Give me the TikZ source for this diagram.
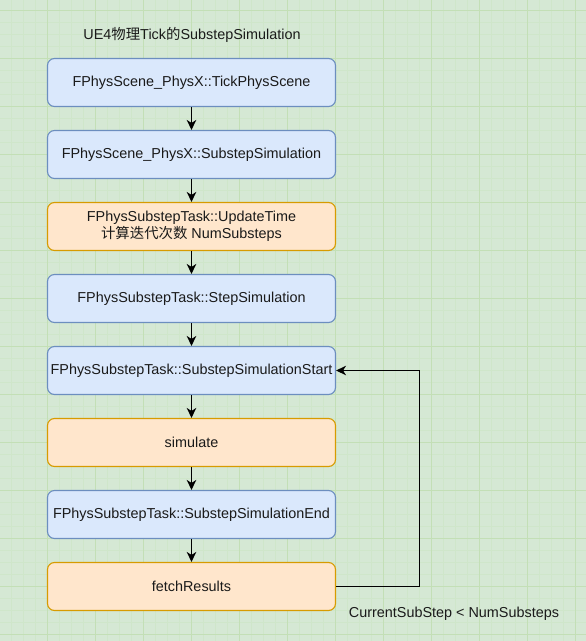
\documentclass[tikz,border=0pt]{standalone}
\usepackage{fontspec}
\setmainfont{Liberation Sans}
\newfontfamily\cjk{Noto Sans CJK SC}
\usetikzlibrary{arrows.meta}
\definecolor{bgc}{HTML}{D5E8D4}
\definecolor{minorc}{HTML}{CFE6CA}
\definecolor{majorc}{HTML}{C3DFB6}
\definecolor{bluef}{HTML}{DAE8FC}
\definecolor{blues}{HTML}{6C8EBF}
\definecolor{orangef}{HTML}{FFE6CC}
\definecolor{oranges}{HTML}{D79B00}
\definecolor{txt}{HTML}{1A1A1A}
\tikzset{
  x=1pt, y=-1pt,
  box/.style={rounded corners=7pt, minimum width=288pt, minimum height=48pt, line width=1.1pt, align=center, text=txt, font=\fontsize{14.4pt}{17pt}\selectfont, inner sep=0pt},
  bluebox/.style={box, draw=blues, fill=bluef},
  orangebox/.style={box, draw=oranges, fill=orangef},
  conn/.style={line width=1.1pt, -{Stealth[length=10pt,width=9.5pt,inset=3pt]}},
  plaintext/.style={text=txt, font=\fontsize{14.4pt}{17pt}\selectfont, inner sep=0pt}
}
\begin{document}
\begin{tikzpicture}
\useasboundingbox (0,0) rectangle (586,641);
\fill[bgc] (0,0) rectangle (586,641);
\foreach \i in {0,...,48} {
  \draw[minorc, line width=0.8pt] ({11.5+12*\i},0) -- ({11.5+12*\i},641);
}
\foreach \i in {0,...,53} {
  \draw[minorc, line width=0.8pt] (0,{10.5+12*\i}) -- (586,{10.5+12*\i});
}
\foreach \i in {0,...,12} {
  \draw[majorc, line width=1pt] ({-0.5+48*\i},0) -- ({-0.5+48*\i},641);
}
\foreach \i in {0,...,13} {
  \draw[majorc, line width=1pt] (0,{10.5+48*\i}) -- (586,{10.5+48*\i});
}
\node[plaintext] (title) at (192,35) {UE4{\cjk 物理}Tick{\cjk 的}SubstepSimulation};
\node[bluebox] (b1) at (191.5,82.5) {FPhysScene\_PhysX::TickPhysScene};
\node[bluebox] (b2) at (191.5,154.5) {FPhysScene\_PhysX::SubstepSimulation};
\node[orangebox] (b3) at (191.5,226.5) {FPhysSubstepTask::UpdateTime\\{\cjk 计算迭代次数} NumSubsteps};
\node[bluebox] (b4) at (191.5,298.5) {FPhysSubstepTask::StepSimulation};
\node[bluebox] (b5) at (191.5,370.5) {FPhysSubstepTask::SubstepSimulationStart};
\node[orangebox] (b6) at (191.5,442.5) {simulate};
\node[bluebox] (b7) at (191.5,514.5) {FPhysSubstepTask::SubstepSimulationEnd};
\node[orangebox] (b8) at (191.5,586.5) {fetchResults};
\node[plaintext] (cond) at (454,614) {CurrentSubStep < NumSubsteps};
\coordinate (lb) at (419.5,586.5);
\coordinate (lt) at (419.5,370.5);
\foreach \a/\b in {b1/b2,b2/b3,b3/b4,b4/b5,b5/b6,b6/b7,b7/b8} {
  \draw[conn] (\a.south) -- (\b.north);
}
\draw[conn] (b8.east) -- (lb) -- (lt) -- (b5.east);
\end{tikzpicture}
\end{document}
